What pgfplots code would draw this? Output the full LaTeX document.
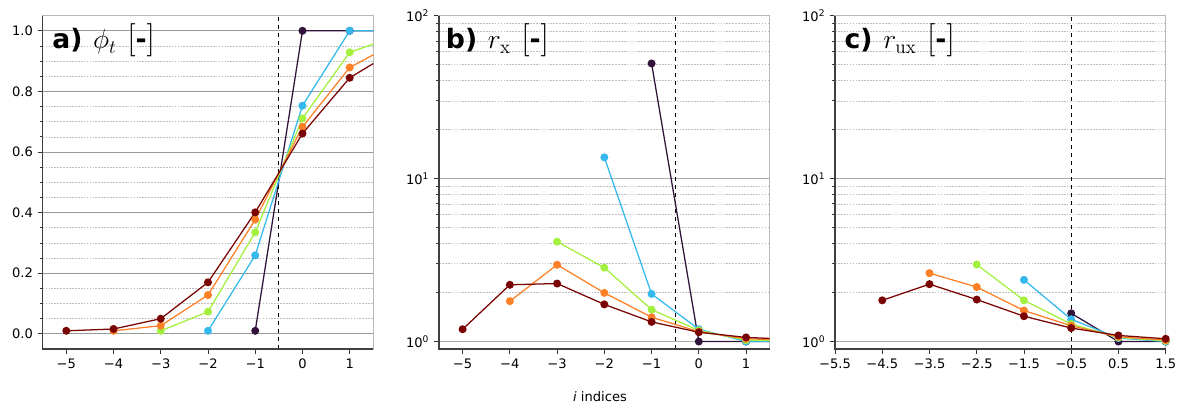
\documentclass[border=0pt]{standalone}
\usepackage{pgfplots}
\pgfplotsset{compat=1.18}
\usepackage[no-math]{fontspec}
\setmainfont{DejaVu Sans}

\definecolor{cA}{HTML}{30123B}
\definecolor{cB}{HTML}{35B9EC}
\definecolor{cC}{HTML}{A4F03E}
\definecolor{cD}{HTML}{FD8027}
\definecolor{cE}{HTML}{7A0403}

\tikzset{lab/.style={anchor=base west, inner sep=0pt, font=\fontsize{20}{24}\selectfont}}
\newcommand{\bigbr}[1]{{\fontsize{25.5}{28}\selectfont$#1$}}
\newcommand{\panellabel}[2]{{\bfseries #1}\hspace{8pt}$#2$\hspace{8pt}\bigbr{[}{\bfseries -}\bigbr{]}}

\pgfplotsset{
  panel/.style={
    scale only axis, width=248pt, height=250pt,
    xmin=-5.5, xmax=1.5,
    tick pos=left, tick align=outside,
    major tick length=3.8pt, minor tick length=2.2pt,
    every tick/.style={black!80, line width=0.6pt},
    axis line style={gray!55, line width=0.8pt},
    ymajorgrids, yminorgrids,
    major grid style={gray!65, line width=0.6pt},
    minor grid style={gray!50, line width=0.5pt, dash pattern=on 1.3pt off 0.9pt},
    tick label style={font=\fontsize{9.8}{11}\selectfont},
    every axis plot/.append style={line width=0.95pt, mark=*, mark size=2.5pt, mark options={solid}},
    clip=true,
    after end axis/.code={
      \draw[black!75, line width=0.8pt] (rel axis cs:0,1) -- (rel axis cs:0,0) -- (rel axis cs:1,0);
    },
  },
}

\begin{document}
\begin{tikzpicture}

% a) phi_t
\begin{axis}[panel, at={(32pt,43.5pt)}, anchor=south west,
  ymin=-0.05, ymax=1.05,
  major grid style={gray!80, line width=0.6pt},
  xtick={-5,-4,-3,-2,-1,0,1},
  xticklabels={−5,−4,−3,−2,−1,0,1},
  ytick={0,0.2,0.4,0.6,0.8,1.0},
  yticklabels={0.0,0.2,0.4,0.6,0.8,1.0},
  minor ytick={0.05,0.1,0.15,0.25,0.3,0.35,0.45,0.5,0.55,0.65,0.7,0.75,0.85,0.9,0.95},
]
\addplot[black, dashed, line width=0.7pt, mark=none] coordinates {(-0.5,-0.05) (-0.5,1.05)};
\addplot[cA, mark options={fill=cA}] coordinates {(-1,0.01)(0,1)(1,1)(2,1)};
\addplot[cB, mark options={fill=cB}] coordinates {(-2,0.01)(-1,0.259)(0,0.753)(1,1.0)(2,1.0)};
\addplot[cC, mark options={fill=cC}] coordinates {(-3,0.01)(-2,0.073)(-1,0.335)(0,0.711)(1,0.929)(2,0.983)};
\addplot[cD, mark options={fill=cD}] coordinates {(-4,0.01)(-3,0.027)(-2,0.128)(-1,0.377)(0,0.683)(1,0.879)(2,0.963)};
\addplot[cE, mark options={fill=cE}] coordinates {(-5,0.01)(-4,0.016)(-3,0.05)(-2,0.17)(-1,0.401)(0,0.661)(1,0.845)(2,0.939)};
\node[lab] at ([xshift=7pt,yshift=-25pt]rel axis cs:0,1) {\panellabel{a)}{\phi_t}};
\end{axis}

% b) r_x
\begin{axis}[panel, at={(329.25pt,43.5pt)}, anchor=south west,
  ymode=log, ymin=0.9, ymax=100,
  xtick={-5,-4,-3,-2,-1,0,1},
  xticklabels={−5,−4,−3,−2,−1,0,1},
  ytick={1,10,100},
  yticklabels={10\textsuperscript{0},10\textsuperscript{1},10\textsuperscript{2}},
  minor ytick={2,3,4,5,6,7,8,9,20,30,40,50,60,70,80,90},
]
\addplot[black, dashed, line width=0.7pt, mark=none] coordinates {(-0.5,0.9) (-0.5,100)};
\addplot[cA, mark options={fill=cA}] coordinates {(-1,50.9)(0,1.0)(1,1.0)(2,1.0)};
\addplot[cB, mark options={fill=cB}] coordinates {(-2,13.5)(-1,1.96)(0,1.19)(1,1.0)(2,1.0)};
\addplot[cC, mark options={fill=cC}] coordinates {(-3,4.10)(-2,2.84)(-1,1.57)(0,1.17)(1,1.02)(2,1.01)};
\addplot[cD, mark options={fill=cD}] coordinates {(-4,1.77)(-3,2.96)(-2,1.99)(-1,1.41)(0,1.15)(1,1.04)(2,1.02)};
\addplot[cE, mark options={fill=cE}] coordinates {(-5,1.19)(-4,2.23)(-3,2.27)(-2,1.69)(-1,1.32)(0,1.14)(1,1.06)(2,1.03)};
\node[lab] at ([xshift=5pt,yshift=-25pt]rel axis cs:0,1) {\panellabel{b)}{r_{\mathrm{x}}}};
\end{axis}

% c) r_ux
\begin{axis}[panel, at={(626.25pt,43.5pt)}, anchor=south west,
  ymode=log, ymin=0.9, ymax=100,
  xtick={-5.5,-4.5,-3.5,-2.5,-1.5,-0.5,0.5,1.5},
  xticklabels={−5.5,−4.5,−3.5,−2.5,−1.5,−0.5,0.5,1.5},
  ytick={1,10,100},
  yticklabels={10\textsuperscript{0},10\textsuperscript{1},10\textsuperscript{2}},
  minor ytick={2,3,4,5,6,7,8,9,20,30,40,50,60,70,80,90},
]
\addplot[black, dashed, line width=0.7pt, mark=none] coordinates {(-0.5,0.9) (-0.5,100)};
\addplot[cA, mark options={fill=cA}] coordinates {(-0.5,1.49)(0.5,1.0)(1.5,1.0)};
\addplot[cB, mark options={fill=cB}] coordinates {(-1.5,2.39)(-0.5,1.37)(0.5,1.05)(1.5,1.0)};
\addplot[cC, mark options={fill=cC}] coordinates {(-2.5,2.97)(-1.5,1.79)(-0.5,1.28)(0.5,1.06)(1.5,1.01)};
\addplot[cD, mark options={fill=cD}] coordinates {(-3.5,2.63)(-2.5,2.16)(-1.5,1.55)(-0.5,1.25)(0.5,1.07)(1.5,1.02)};
\addplot[cE, mark options={fill=cE}] coordinates {(-4.5,1.79)(-3.5,2.25)(-2.5,1.81)(-1.5,1.43)(-0.5,1.21)(0.5,1.09)(1.5,1.04)};
\node[lab] at ([xshift=7pt,yshift=-25pt]rel axis cs:0,1) {\panellabel{c)}{r_{\mathrm{ux}}}};
\end{axis}

\node[anchor=base, font=\fontsize{9.8}{11}\selectfont] at (450pt,4pt) {\itshape i\upshape{} indices};

\pgfresetboundingbox
\path (0,0) rectangle (885pt,305.25pt);
\end{tikzpicture}
\end{document}
